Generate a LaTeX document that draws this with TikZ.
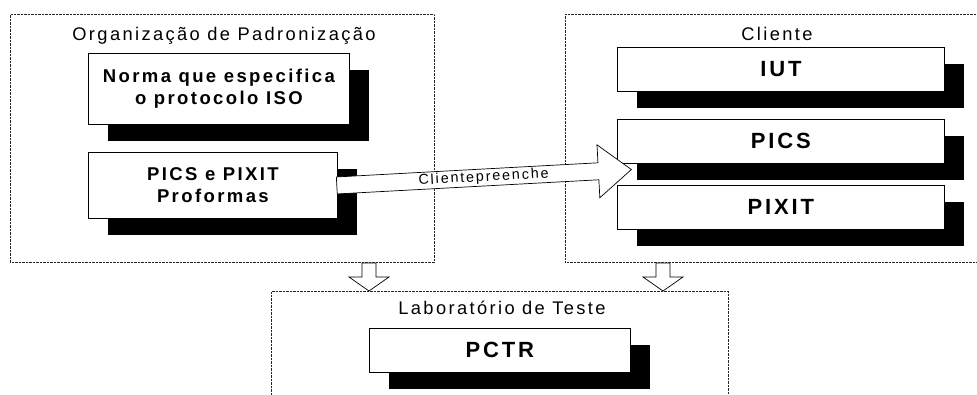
\documentclass[tikz,border=0pt]{standalone}
\usepackage{fontspec}
\setmainfont{Liberation Sans}[LetterSpace=13]
\usetikzlibrary{shadows,calc}
\begin{document}
\begin{tikzpicture}[x=1pt,y=-1pt,
  outer/.style={draw=black!85, line width=0.9pt, dash pattern=on 0.7pt off 0.7pt, anchor=north west, inner sep=0pt},
  ibox/.style={draw=black, line width=0.8pt, fill=white, anchor=north west, inner sep=0pt, align=center,
    general shadow={fill=black, shadow xshift=20pt, shadow yshift=-17pt}},
  ttl/.style={font=\fontsize{18.3}{22}\selectfont, inner sep=0pt, anchor=base},
  lbold/.style={font=\fontsize{18.5}{22}\selectfont\bfseries},
  rbold/.style={font=\fontsize{22}{26}\selectfont\bfseries},
  blk/.style={draw=black, line width=0.7pt, fill=white, line join=miter}]
\path[use as bounding box] (0,0) rectangle (977,394);
\begin{scope}
\clip (0,0) rectangle (977,394);
% outer boxes
\node[outer, minimum width=424pt, minimum height=248pt] (org) at (10,14) {};
\node[outer, minimum width=420pt, minimum height=248pt] (cli) at (565,14) {};
\node[outer, minimum width=457pt, minimum height=120pt] (lab) at (271,291) {};
% titles
\node[ttl] (orgt) at (224,40) {Organização de Padronização};
\node[ttl] (clit) at (777,40) {Cliente};
\node[ttl] (labt) at (502,314) {Laboratório de Teste};
% inner boxes
\node[ibox, lbold, minimum width=261pt, minimum height=71pt] (norma) at (88,53) {Norma que especifica\\o protocolo ISO};
\node[ibox, lbold, minimum width=249pt, minimum height=66pt] (pp) at (88,152) {PICS e PIXIT\\Proformas};
\node[ibox, rbold, minimum width=327pt, minimum height=44pt] (iut) at (617,47) {IUT};
\node[ibox, rbold, minimum width=327pt, minimum height=44pt] (pics) at (617,119) {PICS};
\node[ibox, rbold, minimum width=327pt, minimum height=44pt] (pixit) at (617,185) {PIXIT};
\node[ibox, rbold, minimum width=261pt, minimum height=44pt] (pctr) at (369,328) {PCTR};
% down block arrows
\coordinate (d1a) at (369,0 |- org.south);
\coordinate (d1b) at (369,0 |- lab.north);
\coordinate (d2a) at (663,0 |- cli.south);
\coordinate (d2b) at (663,0 |- lab.north);
\draw[blk] ($(d1a)+(-7,0)$) -- ($(d1a)+(7,0)$) -- ($(d1b)+(7,-14)$) -- ($(d1b)+(20,-14)$) -- (d1b)
  -- ($(d1b)+(-20,-14)$) -- ($(d1b)+(-7,-14)$) -- cycle;
\draw[blk] ($(d2a)+(-7,0)$) -- ($(d2a)+(7,0)$) -- ($(d2b)+(7,-14)$) -- ($(d2b)+(20,-14)$) -- (d2b)
  -- ($(d2b)+(-20,-14)$) -- ($(d2b)+(-7,-14)$) -- cycle;
% big arrow Cliente preenche
\begin{scope}[shift={(pp.east)}, rotate=3.1]
\draw[blk] (-1,-8.5) -- (261,-8.5) -- (261,-26.5) -- (294,0) -- (261,26.5) -- (261,8.5) -- (-1,8.5) -- cycle;
\node[font=\fontsize{14.3}{16}\selectfont, rotate=3.1, inner sep=0pt] (cp) at (146,0) {Clientepreenche};
\end{scope}
\end{scope}
\end{tikzpicture}
\end{document}
